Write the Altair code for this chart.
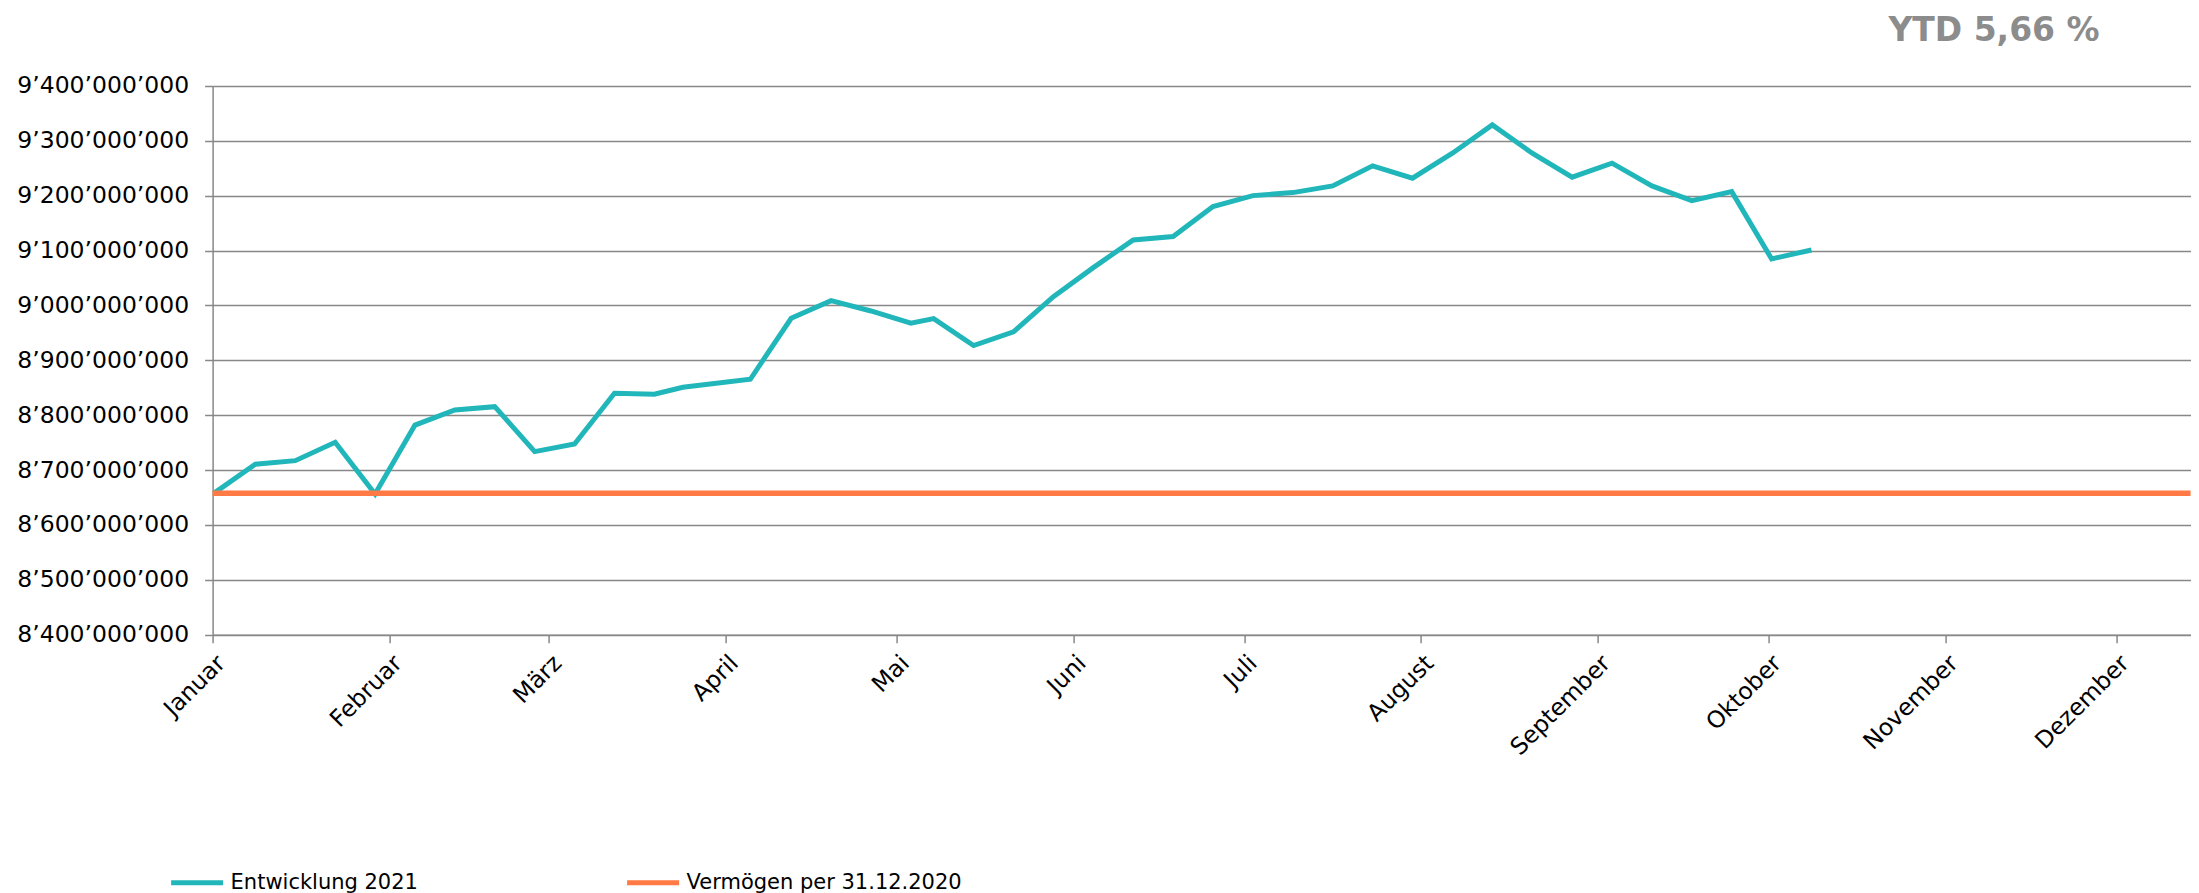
import json
import altair as alt
import pandas as pd

# ---- data ----
dates = [
    "2021-01-01T06:00:00", "2021-01-08T12:00:00", "2021-01-15T12:00:00", "2021-01-22T12:00:00",
    "2021-01-29T12:00:00", "2021-02-05T12:00:00", "2021-02-12T12:00:00", "2021-02-19T12:00:00",
    "2021-02-26T12:00:00", "2021-03-05T12:00:00", "2021-03-12T12:00:00", "2021-03-19T12:00:00",
    "2021-03-24T12:00:00", "2021-04-05T08:00:00", "2021-04-12T12:00:00", "2021-04-19T12:00:00",
    "2021-04-26T12:00:00", "2021-05-03T12:00:00", "2021-05-07T12:00:00", "2021-05-14T12:00:00",
    "2021-05-21T12:00:00", "2021-05-28T12:00:00", "2021-06-04T12:00:00", "2021-06-11T12:00:00",
    "2021-06-18T12:00:00", "2021-06-25T12:00:00", "2021-07-02T12:00:00", "2021-07-09T12:00:00",
    "2021-07-16T12:00:00", "2021-07-23T12:00:00", "2021-07-30T12:00:00", "2021-08-06T12:00:00",
    "2021-08-13T12:00:00", "2021-08-20T12:00:00", "2021-08-27T12:00:00", "2021-09-03T12:00:00",
    "2021-09-10T12:00:00", "2021-09-17T12:00:00", "2021-09-24T12:00:00", "2021-10-01T12:00:00",
    "2021-10-08T12:00:00",
]
values = [
    8658000000, 8710600000, 8717200000, 8750700000, 8656500000, 8782000000, 8809600000,
    8815600000, 8733600000, 8747600000, 8840000000, 8838200000, 8851000000, 8865500000,
    8976700000, 9008800000, 8990000000, 8967600000, 8976000000, 8927000000, 8952000000,
    9016100000, 9069000000, 9119500000, 9125500000, 9180200000, 9200200000, 9205700000,
    9217900000, 9254400000, 9231900000, 9277500000, 9329100000, 9277500000, 9233800000,
    9259300000, 9217900000, 9191100000, 9207500000, 9084800000, 9101200000,
]
baseline_value = 8658000000
series_names = ["Entwicklung 2021", "Vermögen per 31.12.2020"]
series_colors = ["#21B6BA", "#FF7A45"]
month_labels = ["Januar", "Februar", "März", "April", "Mai", "Juni", "Juli",
                "August", "September", "Oktober", "November", "Dezember"]
y_ticks = [8400000000, 8500000000, 8600000000, 8700000000, 8800000000, 8900000000,
           9000000000, 9100000000, 9200000000, 9300000000, 9400000000]
title_text = "YTD 5,66 %"

line_df = pd.DataFrame({"date": dates, "value": values, "series": series_names[0]})
rule_df = pd.DataFrame({"value": [baseline_value], "series": [series_names[1]]})

FONT = "DejaVu Sans"
GRID = "#888888"

color = alt.Color(
    "series:N",
    scale=alt.Scale(domain=series_names, range=series_colors),
    legend=alt.Legend(
        title=None, orient="none", legendX=-44, legendY=768, direction="horizontal",
        symbolType="stroke", symbolSize=2704, symbolStrokeWidth=5,
        labelFontSize=21, labelFont=FONT, labelColor="black", labelOffset=5,
        labelLimit=500, columnPadding=198,
    ),
)

y_enc = alt.Y(
    "value:Q",
    title=None,
    scale=alt.Scale(domain=[y_ticks[0], y_ticks[-1]], nice=False, zero=False),
    axis=alt.Axis(
        values=y_ticks,
        labelExpr="replace(format(datum.value, ',.0f'), /,/g, '\u2019')",
        grid=True, gridColor=GRID, gridWidth=1.5,
        domainColor=GRID, domainWidth=1.5, tickColor=GRID, tickWidth=1.5, tickSize=8,
        labelPadding=16, labelFontSize=23.5, labelFont=FONT, labelColor="black",
        labelBaseline="middle",
    ),
)

x_enc = alt.X(
    "date:T",
    title=None,
    scale=alt.Scale(domain=[alt.DateTime(year=2021, month=1, date=1),
                            alt.DateTime(year=2021, month=12, date=14)]),
    axis=alt.Axis(
        values=[alt.DateTime(year=2021, month=m, date=1) for m in range(1, 13)],
        labelExpr=json.dumps(month_labels) + "[month(datum.value)]",
        grid=False, domainColor=GRID, domainWidth=1.5, tickColor=GRID, tickWidth=1.5,
        tickSize=8, labelAngle=-45, labelAlign="right", labelBaseline="top",
        labelPadding=8, labelFontSize=23.5, labelFont=FONT, labelColor="black",
        labelOverlap=False, labelFlush=False,
    ),
)

line = alt.Chart(line_df).mark_line(strokeWidth=5).encode(x=x_enc, y=y_enc, color=color)
rule = alt.Chart(rule_df).mark_rule(strokeWidth=5.5).encode(y=y_enc, color=color)

chart = alt.layer(line, rule).properties(
    width=1978,
    height=548.7,
    autosize="none",
    padding={"left": 204.6, "top": 78, "right": 0, "bottom": 266},
    title=alt.TitleParams(
        text=title_text, anchor="end", frame="group", font=FONT, fontSize=33,
        fontWeight="bold", color="#8C8C8C", dx=-91, dy=36, offset=36, baseline="alphabetic",
    ),
).configure_view(stroke=None)

chart.save("out.html", embed_options={"renderer": "svg", "actions": False})
